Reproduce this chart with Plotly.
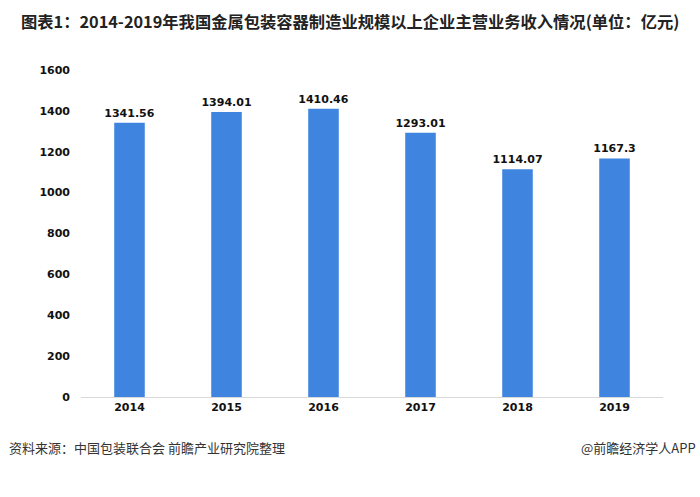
import plotly.graph_objects as go

years = ["2014", "2015", "2016", "2017", "2018", "2019"]
revenue = [1341.56, 1394.01, 1410.46, 1293.01, 1114.07, 1167.3]
labels = ["1341.56", "1394.01", "1410.46", "1293.01", "1114.07", "1167.3"]
y_ticks = [0, 200, 400, 600, 800, 1000, 1200, 1400, 1600]

title = "图表1：2014-2019年我国金属包装容器制造业规模以上企业主营业务收入情况(单位：亿元)"
source = "资料来源：中国包装联合会 前瞻产业研究院整理"
brand = "@前瞻经济学人APP"

L, R, T, B = 81, 37, 70, 100
W, H = 700, 497
pw, ph = W - L - R, H - T - B

def px(x):
    return (x - L) / pw

def py(y):
    return (H - B - y) / ph

num_font = "DejaVu Sans"

fig = go.Figure(go.Bar(
    x=years, y=revenue, text=labels, textposition="outside",
    texttemplate="<b>%{text}</b>", constraintext="none",
    textfont=dict(family=num_font, size=11, color="#111111"),
    marker=dict(color="#3F85E0", line=dict(width=0)),
    cliponaxis=False,
))

fig.update_layout(
    width=W, height=H,
    margin=dict(l=L, r=R, t=T, b=B, autoexpand=False),
    paper_bgcolor="white", plot_bgcolor="white",
    bargap=0.685,
    showlegend=False,
    font=dict(family=num_font, color="#111111"),
    xaxis=dict(showline=True, linecolor="#d9d9d9", linewidth=1, ticks="",
               tickfont=dict(size=11, family=num_font, weight="bold")),
    yaxis=dict(range=[0, 1600], tickvals=y_ticks, showgrid=False, zeroline=False,
               showline=False, ticks="", ticklabelstandoff=10,
               tickfont=dict(size=11, family=num_font, weight="bold")),
    annotations=[
        dict(text="<b>" + title + "</b>", x=px(19), y=py(21), xref="paper", yref="paper",
             xanchor="left", yanchor="middle",
             font=dict(family="Noto Sans CJK SC", size=16.3, color="#222222"), showarrow=False),
        dict(text=source, x=px(7), y=py(447), xref="paper", yref="paper",
             xanchor="left", yanchor="middle",
             font=dict(family="Noto Sans CJK SC", size=13, color="#333333"), showarrow=False),
        dict(text=brand, x=px(698), y=py(447), xref="paper", yref="paper",
             xanchor="right", yanchor="middle",
             font=dict(family="Noto Sans CJK SC", size=13, color="#333333"), showarrow=False),
    ],
)

fig.write_html("out.html", config={"displayModeBar": False},
               post_script="document.body.style.margin='0px';")
